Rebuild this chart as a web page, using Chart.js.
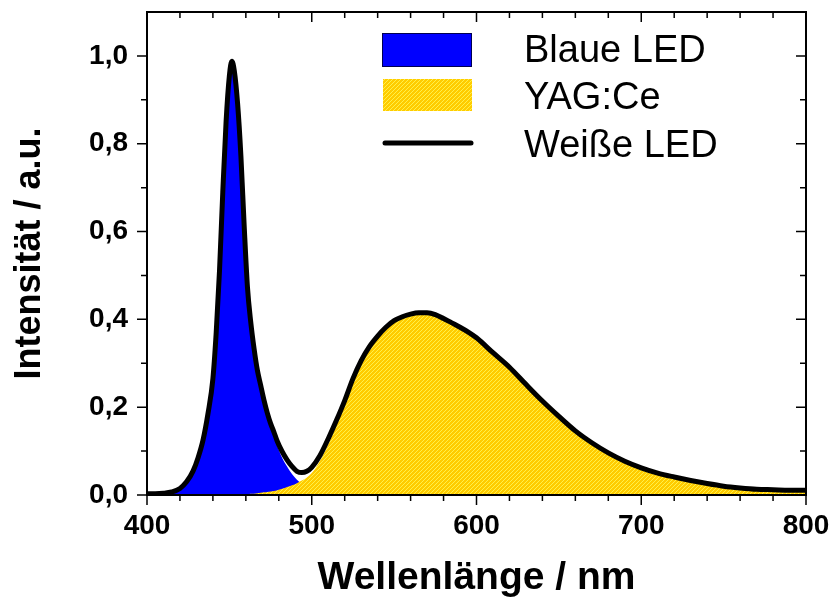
<!DOCTYPE html>
<html lang="de">
<head>
<meta charset="UTF-8">
<title>Spektrum: Blaue LED, YAG:Ce, Weiße LED</title>
<script src="https://cdn.jsdelivr.net/npm/chart.js"></script>
<style>
  html, body { margin: 0; padding: 0; background: #fff; }
  #wrap { width: 832px; height: 600px; }
</style>
</head>
<body>
<div id="wrap"><canvas id="spectrum" width="832" height="600"></canvas></div>
<script>
// Wellenlänge in nm, gemeinsames Raster für alle drei Kurven
const wavelengths = [400, 405, 410, 415, 420, 424, 428, 431, 434, 437, 440, 442, 444, 446, 448, 450, 451.5, 453,
  455, 457, 459, 461, 463, 465, 467, 469, 471, 473, 475, 477, 479, 482, 485, 488, 491, 494, 497, 500,
  505, 510, 515, 520, 525, 530, 535, 540, 545, 550, 555, 560, 565, 570, 575, 580, 585, 590, 595, 600,
  610, 620, 630, 640, 650, 660, 670, 680, 690, 700, 710, 720, 730, 740, 750, 760, 770, 780, 790, 800];

// Intensität (a.u.)
const blueLed = [0.002, 0.003, 0.004, 0.007, 0.015, 0.030, 0.055, 0.085, 0.125, 0.185, 0.265, 0.37, 0.51, 0.69, 0.85, 0.955, 0.985, 0.965,
  0.89, 0.77, 0.61, 0.47, 0.39, 0.33, 0.28, 0.245, 0.21, 0.18, 0.155, 0.135, 0.112, 0.085, 0.065, 0.048, 0.035, 0.025, 0.014, 0.005,
  0.001, 0, 0, 0, 0, 0, 0, 0, 0, 0, 0, 0, 0, 0, 0, 0, 0, 0, 0, 0,
  0, 0, 0, 0, 0, 0, 0, 0, 0, 0, 0, 0, 0, 0, 0, 0, 0, 0, 0, 0];

const yagCe = [0, 0, 0, 0, 0, 0, 0, 0, 0, 0, 0, 0, 0, 0, 0, 0, 0, 0,
  0.001, 0.002, 0.002, 0.002, 0.003, 0.003, 0.004, 0.005, 0.006, 0.007, 0.008, 0.009, 0.011, 0.014, 0.018, 0.022, 0.027, 0.033, 0.040, 0.050,
  0.078, 0.115, 0.160, 0.210, 0.262, 0.303, 0.336, 0.360, 0.380, 0.395, 0.405, 0.411, 0.414, 0.414, 0.410, 0.401, 0.391, 0.381, 0.370, 0.357,
  0.323, 0.290, 0.251, 0.213, 0.178, 0.145, 0.118, 0.095, 0.076, 0.061, 0.049, 0.040, 0.032, 0.025, 0.019, 0.015, 0.012, 0.011, 0.010, 0.010];

const whiteLed = [0.003, 0.003, 0.004, 0.007, 0.015, 0.030, 0.055, 0.085, 0.125, 0.185, 0.265, 0.37, 0.51, 0.69, 0.85, 0.955, 0.988, 0.966,
  0.891, 0.772, 0.612, 0.472, 0.393, 0.333, 0.284, 0.25, 0.216, 0.187, 0.163, 0.144, 0.123, 0.099, 0.08, 0.065, 0.054, 0.051, 0.054, 0.063,
  0.09, 0.128, 0.17, 0.215, 0.265, 0.306, 0.338, 0.362, 0.382, 0.397, 0.406, 0.412, 0.415, 0.415, 0.411, 0.402, 0.392, 0.382, 0.371, 0.358,
  0.324, 0.291, 0.252, 0.214, 0.179, 0.146, 0.119, 0.096, 0.077, 0.062, 0.05, 0.041, 0.033, 0.026, 0.02, 0.016, 0.013, 0.012, 0.011, 0.011];

const seriesLabels = ['Blaue LED', 'YAG:Ce', 'Weiße LED'];
const xTicks = [400, 500, 600, 700, 800];
const yTicks = [0, 0.2, 0.4, 0.6, 0.8, 1.0];

const canvas = document.getElementById('spectrum');
const ctx = canvas.getContext('2d');

// gelbe Füllung mit feiner Schraffur
function hatchPattern() {
  const tile = document.createElement('canvas');
  tile.width = 4; tile.height = 4;
  const g = tile.getContext('2d');
  g.fillStyle = '#ffcc00';
  g.fillRect(0, 0, 4, 4);
  g.fillStyle = '#fff04a';
  for (let i = 0; i < 4; i++) g.fillRect(3 - i, i, 1, 1);
  return ctx.createPattern(tile, 'repeat');
}
const yellowFill = hatchPattern();

const toPoints = vals => wavelengths.map((w, i) => ({ x: w, y: vals[i] }));

// keine automatische Randzugabe für Beschriftungen
function noEdgePadding(s) {
  s.paddingLeft = 0; s.paddingRight = 0;
  s.paddingTop = 0; s.paddingBottom = 0;
}

// Rahmen mit Haupt- und Nebenstrichen auf allen vier Seiten
const frameTicks = {
  id: 'frameTicks',
  afterDatasetsDraw(chart) {
    const { ctx, chartArea: a, scales: { x, y } } = chart;
    ctx.save();
    ctx.strokeStyle = '#000';
    ctx.lineWidth = 1.5;
    ctx.beginPath();
    for (let v = 400; v <= 800; v += 20) {
      const px = x.getPixelForValue(v);
      const len = v % 100 === 0 ? 10 : 6;
      ctx.moveTo(px, a.bottom); ctx.lineTo(px, a.bottom + len);
      ctx.moveTo(px, a.top); ctx.lineTo(px, a.top + len);
    }
    for (let i = 0; i <= 10; i++) {
      const py = y.getPixelForValue(i / 10);
      const len = i % 2 === 0 ? 10 : 6;
      ctx.moveTo(a.left, py); ctx.lineTo(a.left - len, py);
      ctx.moveTo(a.right, py); ctx.lineTo(a.right - len, py);
    }
    ctx.stroke();
    ctx.lineWidth = 2;
    ctx.strokeRect(a.left, a.top, a.right - a.left, a.bottom - a.top);
    ctx.restore();
  }
};

// Legende im Diagramm oben rechts
const innerLegend = {
  id: 'innerLegend',
  afterDraw(chart) {
    const { ctx } = chart;
    const ds = chart.data.datasets;
    ctx.save();
    ctx.fillStyle = ds[0].backgroundColor;
    ctx.fillRect(382, 33, 90, 34);
    ctx.strokeStyle = '#000050';
    ctx.lineWidth = 1;
    ctx.strokeRect(382.5, 33.5, 89, 33);
    ctx.fillStyle = ds[1].backgroundColor;
    ctx.fillRect(383, 79, 89, 32);
    ctx.strokeStyle = ds[2].borderColor;
    ctx.lineWidth = 5;
    ctx.lineCap = 'round';
    ctx.beginPath();
    ctx.moveTo(385, 143); ctx.lineTo(471, 143);
    ctx.stroke();
    ctx.fillStyle = '#000';
    ctx.font = '38px "Liberation Sans", Arial, sans-serif';
    ctx.textBaseline = 'alphabetic';
    ctx.fillText(ds[0].label, 524, 62);
    ctx.fillText(ds[1].label, 524, 109);
    ctx.fillText(ds[2].label, 524, 157);
    ctx.restore();
  }
};

Chart.defaults.font.family = '"Liberation Sans", Arial, sans-serif';
Chart.defaults.color = '#000';

new Chart(ctx, {
  type: 'line',
  data: {
    datasets: [
      {
        label: seriesLabels[0],
        data: toPoints(blueLed),
        backgroundColor: '#0000ff',
        borderWidth: 0,
        fill: 'origin',
        order: 3
      },
      {
        label: seriesLabels[1],
        data: toPoints(yagCe),
        backgroundColor: yellowFill,
        borderWidth: 0,
        fill: 'origin',
        order: 2
      },
      {
        label: seriesLabels[2],
        data: toPoints(whiteLed),
        borderColor: '#000',
        borderWidth: 5,
        borderCapStyle: 'round',
        borderJoinStyle: 'round',
        fill: false,
        order: 1
      }
    ]
  },
  options: {
    responsive: false,
    animation: false,
    layout: { padding: { top: 12, right: 26, left: 0, bottom: 0 } },
    elements: {
      point: { radius: 0 },
      line: { cubicInterpolationMode: 'monotone' }
    },
    plugins: {
      legend: { display: false },
      tooltip: { enabled: false }
    },
    scales: {
      x: {
        type: 'linear',
        min: 400,
        max: 800,
        afterBuildTicks: s => { s.ticks = xTicks.map(v => ({ value: v })); },
        afterFit: s => { s.height = 105; noEdgePadding(s); },
        grid: { display: false, drawTicks: false },
        border: { display: false },
        ticks: { font: { size: 28, weight: 'bold' }, padding: 14, maxRotation: 0 },
        title: {
          display: true,
          text: 'Wellenlänge / nm',
          font: { size: 39, weight: 'bold', lineHeight: 1 },
          padding: { top: 0, bottom: 2 }
        }
      },
      y: {
        type: 'linear',
        min: 0,
        max: 1.1,
        afterBuildTicks: s => { s.ticks = yTicks.map(v => ({ value: v })); },
        afterFit: s => { s.width = 147; noEdgePadding(s); },
        grid: { display: false, drawTicks: false },
        border: { display: false },
        ticks: {
          font: { size: 28, weight: 'bold' },
          padding: 19,
          callback: v => v.toFixed(1).replace('.', ',')
        },
        title: {
          display: true,
          text: 'Intensität / a.u.',
          font: { size: 36, weight: 'bold', lineHeight: 1 },
          padding: { top: 12, bottom: 0 }
        }
      }
    }
  },
  plugins: [frameTicks, innerLegend]
});
</script>
</body>
</html>
